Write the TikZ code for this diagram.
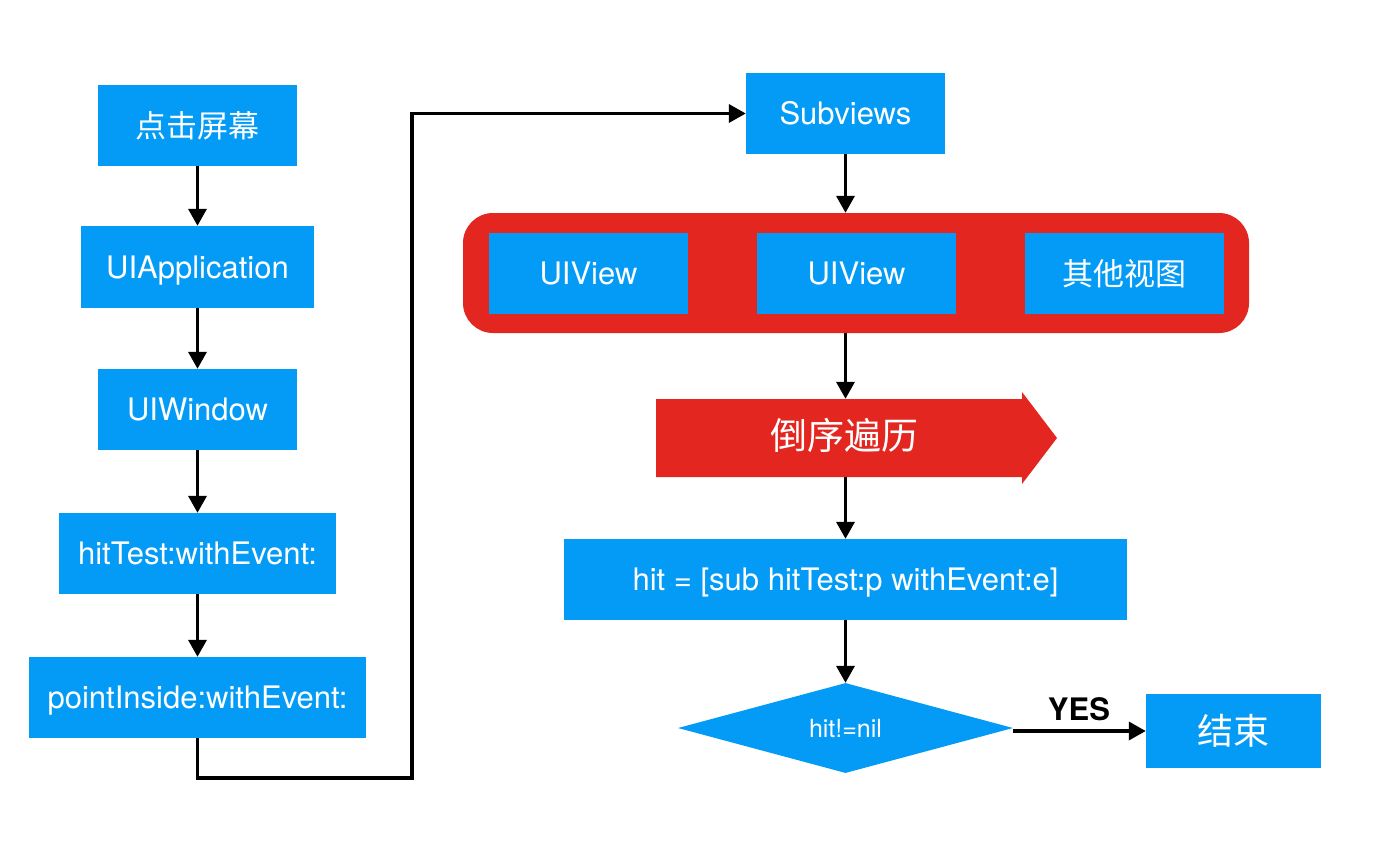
\documentclass[tikz,border=0pt]{standalone}
\usepackage{fontspec}
\setmainfont{TeX Gyre Heros}
\newfontfamily\cjk{Noto Sans CJK SC}
\usetikzlibrary{arrows.meta,shapes.geometric}
\definecolor{ublue}{RGB}{3,155,246}
\definecolor{ured}{RGB}{228,38,32}
\tikzset{
  bbox/.style={fill=ublue,text=white,inner sep=0pt,font=\fontsize{31}{33}\selectfont},
  lat/.style={text height=22pt,text depth=0pt},
  conn/.style={line width=3.5pt,-{Triangle[length=17pt,width=18pt]}},
  plain/.style={line width=3.5pt}
}
\begin{document}
\begin{tikzpicture}[x=1pt,y=-1pt]
\useasboundingbox (0,0) rectangle (1374,860);
% left column
\node[bbox,minimum width=199pt,minimum height=81pt] (tap) at (197.5,125.5) {\cjk 点击屏幕};
\node[bbox,lat,minimum width=233pt,minimum height=82pt] (app) at (197.5,267) {UIApplication};
\node[bbox,lat,minimum width=199pt,minimum height=81pt] (win) at (197.5,409.5) {UIWindow};
\node[bbox,lat,minimum width=277pt,minimum height=81pt] (ht) at (197.5,553.5) {hitTest:withEvent:};
\node[bbox,lat,minimum width=337pt,minimum height=81pt] (pi) at (197.5,697.5) {pointInside:withEvent:};
\draw[conn] (tap.south) -- (app.north);
\draw[conn] (app.south) -- (win.north);
\draw[conn] (win.south) -- (ht.north);
\draw[conn] (ht.south) -- (pi.north);
% right column
\node[bbox,lat,minimum width=199pt,minimum height=81pt] (sub) at (845.5,113.5) {Subviews};
\coordinate (c1) at (197.5,778);
\coordinate (c2) at (412,778);
\coordinate (c3) at (412,113.5);
\draw[conn] (pi.south) -- (c1) -- (c2) -- (c3) -- (sub.west);
\node[fill=ured,rounded corners=30pt,minimum width=786pt,minimum height=120pt,inner sep=0pt] (grp) at (856,273) {};
\node[bbox,lat,minimum width=199pt,minimum height=81pt] (v1) at (588.5,273.5) {UIView};
\node[bbox,lat,minimum width=199pt,minimum height=81pt] (v2) at (856.5,273.5) {UIView};
\node[bbox,minimum width=199pt,minimum height=81pt] (v3) at (1124.5,273.5) {\cjk 其他视图};
\draw[conn] (sub.south) -- (sub.south |- grp.north);
% reverse traversal arrow
\fill[ured] (656,399) -- (1022,399) -- (1022,392) -- (1057,438) -- (1022,484) -- (1022,477) -- (656,477) -- cycle;
\coordinate (revc) at (846,438);
\node[minimum width=380pt,minimum height=78pt,inner sep=0pt] (rev) at (revc) {};
\node[text=white,inner sep=0pt,font=\cjk\fontsize{37}{39}\selectfont] (revt) at (844,435) {倒序遍历};
\draw[conn] (grp.south -| sub.south) -- (sub.south |- rev.north);
\node[bbox,lat,minimum width=563pt,minimum height=81pt] (hit) at (845.5,579.5) {hit = [sub hitTest:p withEvent:e]};
\draw[conn] (sub.south |- rev.south) -- (sub.south |- hit.north);
\node[diamond,fill=ublue,text=white,inner sep=0pt,minimum width=335pt,minimum height=90pt,aspect=3.7,font=\fontsize{25}{27}\selectfont] (dec) at (845.5,728) {hit!=nil};
\draw[conn] (hit.south) -- (dec.north);
\node[fill=ublue,text=white,inner sep=0pt,minimum width=175pt,minimum height=74pt,font=\cjk\fontsize{36}{38}\selectfont] (end) at (1233.5,731) {结束};
\coordinate (d1) at (1013,731);
\draw[conn] (d1) -- (end.west);
\node[font=\bfseries\fontsize{31}{33}\selectfont] (yes) at (1079,709) {YES};
\end{tikzpicture}
\end{document}
